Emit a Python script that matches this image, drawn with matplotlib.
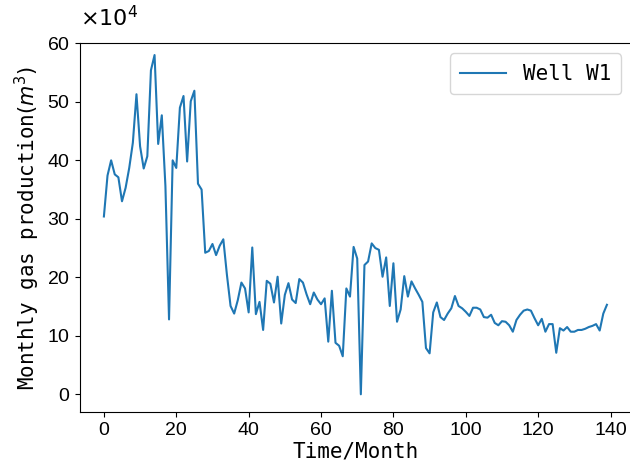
import numpy as np
import matplotlib
matplotlib.use("Agg")
import matplotlib.pyplot as plt

# monthly gas production of well W1, in units of 1e4 m^3
months = np.arange(140)
production = [
    30.4, 37.4, 40.0, 37.6, 37.1, 33.0, 35.3, 38.7, 43.0, 51.3,
    42.4, 38.6, 40.7, 55.4, 58.0, 42.8, 47.7, 35.6, 12.8, 40.0,
    38.7, 49.0, 51.0, 39.8, 50.1, 51.9, 36.0, 35.0, 24.2, 24.5,
    25.7, 23.8, 25.4, 26.5, 20.4, 15.1, 13.8, 16.1, 19.1, 18.1,
    14.0, 25.1, 13.7, 15.8, 11.0, 19.4, 18.9, 15.7, 20.1, 12.1,
    17.0, 19.0, 16.2, 15.6, 19.7, 19.1, 17.1, 15.4, 17.4, 16.2,
    15.4, 16.4, 9.0, 17.7, 8.8, 8.3, 6.5, 18.1, 16.7, 25.2,
    23.2, 0.0, 22.1, 22.7, 25.8, 25.0, 24.7, 20.1, 23.4, 15.1,
    22.4, 12.4, 14.5, 20.2, 16.7, 19.3, 18.1, 17.0, 15.8, 7.9,
    7.0, 14.0, 15.7, 13.2, 12.7, 13.8, 14.7, 16.8, 15.1, 14.7,
    14.1, 13.4, 14.8, 14.8, 14.5, 13.2, 13.1, 13.6, 12.2, 11.8,
    12.5, 12.4, 11.8, 10.7, 12.7, 13.6, 14.3, 14.5, 14.3, 13.0,
    11.8, 12.9, 10.7, 12.0, 12.0, 7.1, 11.3, 10.9, 11.5, 10.7,
    10.7, 11.0, 11.0, 11.2, 11.5, 11.7, 12.0, 10.9, 13.8, 15.3,
]
well_name = "Well W1"

label_font = "DejaVu Sans Mono"
tick_font = "Liberation Sans"

fig = plt.figure(figsize=(6.3, 4.68), dpi=100)
ax = fig.add_axes([0.127, 0.119, 0.876, 0.789])

ax.plot(months, np.array(production) * 1e4, color="#1f77b4", lw=1.5, label=well_name)

ax.set_xlim(-6.6, 145.9)
ax.set_ylim(-3.08e4, 60.05e4)
ax.set_xticks(np.arange(0, 141, 20))
ax.set_yticks(np.arange(0, 61, 10) * 1e4)
ax.ticklabel_format(axis="y", style="sci", scilimits=(4, 4), useMathText=True)
# draw the exponent ourselves so it can sit a bit higher and larger
ax.yaxis.get_offset_text().set_visible(False)
ax.text(0.0, 1.035, r"$\times10^4$", transform=ax.transAxes, fontsize=16,
        ha="left", va="bottom")

ax.set_xlabel("Time/Month", fontsize=15, family=label_font, labelpad=2)
ax.set_ylabel("Monthly gas production$(m^3)$", fontsize=15, family=label_font, labelpad=4)

for lab in ax.get_xticklabels() + ax.get_yticklabels():
    lab.set_fontfamily(tick_font)
    lab.set_fontsize(14)

leg = ax.legend(loc="upper right", prop={"family": label_font, "size": 15},
                handlelength=2.2, borderpad=0.5)

fig.savefig("out.png", dpi=100)
